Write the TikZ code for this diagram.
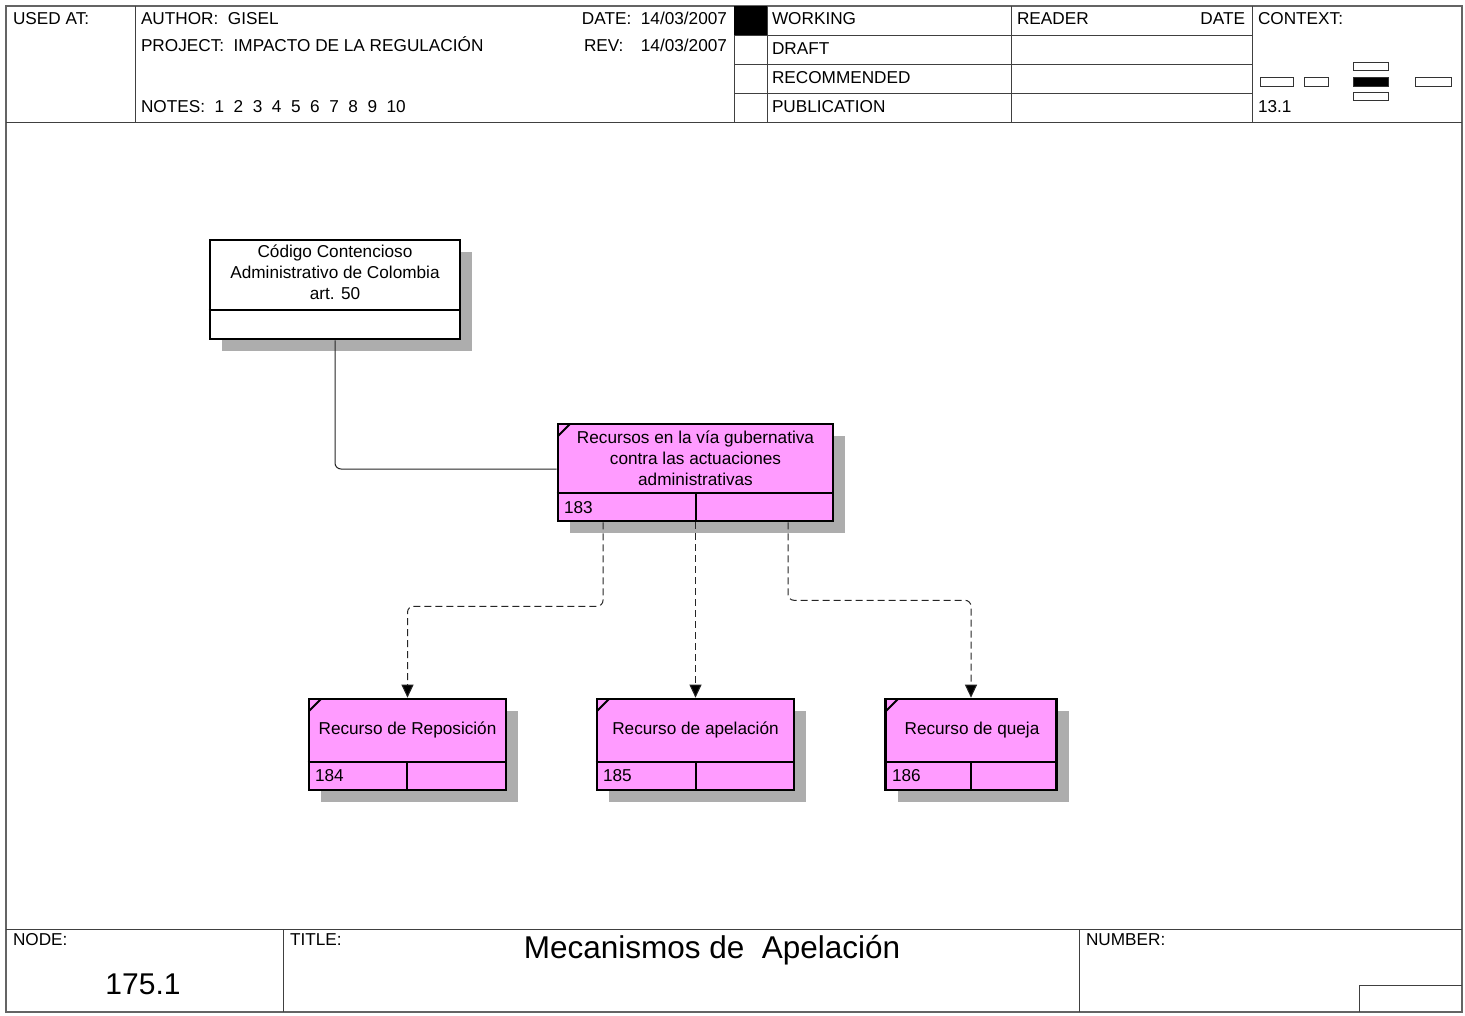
\documentclass[tikz,border=0pt]{standalone}
\usepackage{fontspec}
\setmainfont{Liberation Sans}
\usetikzlibrary{arrows.meta,shadows}
\definecolor{boxpink}{RGB}{255,155,255}
\definecolor{framegray}{RGB}{100,100,100}
\begin{document}
\begin{tikzpicture}[x=1pt,y=-1pt,
  txt/.style={font=\fontsize{17.2}{21}\selectfont, inner sep=0pt, outer sep=0pt},
  lbl/.style={txt, anchor=base west},
  lblr/.style={txt, anchor=base east},
  frameline/.style={draw=framegray, line width=1.3pt},
  rule/.style={draw=black!75, line width=0.9pt},
  ctxbox/.style={draw=black!80, line width=0.8pt},
  box/.style={draw=black, line width=2.6pt, rectangle, inner sep=0pt, fill=boxpink,
    drop shadow={shadow xshift=12pt, shadow yshift=-12pt, fill=black!32, opacity=1}},
  whitebox/.style={box, fill=white},
  divider/.style={draw=black, line width=2.6pt},
  tickmark/.style={draw=black, line width=2pt},
  conn/.style={draw=black!85, line width=1pt, rounded corners=6pt},
  dconn/.style={conn, dash pattern=on 7pt off 4pt, -{Triangle[length=13pt,width=12pt,fill=black]}},
]
\useasboundingbox (0,0) rectangle (1465,1016);
\fill[white] (0,0) rectangle (1465,1016);

% ---------- frame and header ----------
\draw[frameline] (6,6) rectangle (1462,1012);
\draw[rule] (6,122) -- (1462,122);
\draw[rule] (6,929) -- (1462,929);
\draw[rule] (135,6) -- (135,122);
\draw[rule] (734,6) -- (734,122);
\draw[rule] (767,6) -- (767,122);
\draw[rule] (1011,6) -- (1011,122);
\draw[rule] (1252,6) -- (1252,122);
\draw[rule] (734,35) -- (1252,35);
\draw[rule] (734,64) -- (1252,64);
\draw[rule] (734,93) -- (1252,93);
\fill[black] (734,6) rectangle (767,35);

\node[lbl] (usedat) at (13,25) {USED AT:};
\node[lbl] (author) at (141,25) {AUTHOR:\ \ GISEL};
\node[lbl] (project) at (141,52) {PROJECT:\ \ IMPACTO DE LA REGULACIÓN};
\node[lbl] (notes) at (141,113) {NOTES:\ \ 1\ \ 2\ \ 3\ \ 4\ \ 5\ \ 6\ \ 7\ \ 8\ \ 9\ \ 10};
\node[lblr] (date) at (727,25) {DATE:\ \ 14/03/2007};
\node[lbl] (rev) at (584,52) {REV:};
\node[lblr] (revdate) at (727,52) {14/03/2007};
\node[lbl] (working) at (772,25) {WORKING};
\node[lbl] (draft) at (772,55) {DRAFT};
\node[lbl] (recom) at (772,84) {RECOMMENDED};
\node[lbl] (publ) at (772,113) {PUBLICATION};
\node[lbl] (reader) at (1017,25) {READER};
\node[lblr] (rdate) at (1245,25) {DATE};
\node[lbl] (context) at (1258,25) {CONTEXT:};
\node[lbl] (ctxnum) at (1258,113) {13.1};

\draw[ctxbox] (1260,77) rectangle (1293,86);
\draw[ctxbox] (1304,77) rectangle (1328,86);
\filldraw[ctxbox, fill=black] (1353,77) rectangle (1388,86);
\draw[ctxbox] (1353,62) rectangle (1388,70);
\draw[ctxbox] (1353,92) rectangle (1388,100);
\draw[ctxbox] (1415,77) rectangle (1451,86);

% ---------- footer ----------
\draw[rule] (283,929) -- (283,1012);
\draw[rule] (1079,929) -- (1079,1012);
\draw[rule] (1359,985) -- (1462,985);
\draw[rule] (1359,985) -- (1359,1012);
\node[lbl] (nodelbl) at (13,945) {NODE:};
\node[lbl] (titlelbl) at (290,945) {TITLE:};
\node[lbl] (numberlbl) at (1086,945) {NUMBER:};
\node[txt, anchor=base, font=\fontsize{30}{36}\selectfont] (nodenum) at (143,994) {175.1};
\node[txt, anchor=base, font=\fontsize{31.5}{37}\selectfont] (title) at (712,958) {Mecanismos de\ \ Apelación};

% ---------- boxes ----------
\node[whitebox, minimum width=250pt, minimum height=99pt] (b1) at (335,289.5) {};
\node[box, minimum width=275pt, minimum height=97pt] (b183) at (695.5,472.5) {};
\node[box, minimum width=197pt, minimum height=91pt] (b184) at (407.5,744.5) {};
\node[box, minimum width=197pt, minimum height=91pt] (b185) at (695.5,744.5) {};
\node[box, minimum width=171pt, minimum height=91pt] (b186) at (971,744.5) {};

\draw[divider] (b1.west |- 0,310) -- (b1.east |- 0,310);
\draw[divider] (b183.west |- 0,493) -- (b183.east |- 0,493);
\draw[divider] (696,493) -- (696,521);
\draw[divider] (b184.west |- 0,762) -- (b184.east |- 0,762);
\draw[divider] (407,762) -- (407,790);
\draw[divider] (b185.west |- 0,762) -- (b185.east |- 0,762);
\draw[divider] (696,762) -- (696,790);
\draw[divider] (b186.west |- 0,762) -- (b186.east |- 0,762);
\draw[divider] (971,762) -- (971,790);

\draw[tickmark] (558,436) -- (570,424);
\draw[tickmark] (309,711) -- (321,699);
\draw[tickmark] (597,711) -- (609,699);
\draw[tickmark] (886,711) -- (898,699);

\node[txt, align=center] (t1) at (335,272) {Código Contencioso\\Administrativo de Colombia\\art. 50};
\node[txt, align=center] (t183) at (695.5,458) {Recursos en la vía gubernativa\\contra las actuaciones\\administrativas};
\node[txt] (t184) at (407.5,730) {Recurso de Reposición};
\node[txt] (t185) at (695.5,730) {Recurso de apelación};
\node[txt] (t186) at (972,730) {Recurso de queja};
\node[lbl] (n183) at (564,513) {183};
\node[lbl] (n184) at (315,781) {184};
\node[lbl] (n185) at (603,781) {185};
\node[lbl] (n186) at (892,781) {186};

% ---------- connectors ----------
\draw[conn] (b1.south) |- ([yshift=3.5pt]b183.west);
\draw[dconn] ([xshift=-92.5pt]b183.south) -- ++(0,84) -| (b184.north);
\draw[dconn] (b183.south) -- (b185.north);
\draw[dconn] ([xshift=92.5pt]b183.south) -- ++(0,78) -| (b186.north);
\end{tikzpicture}
\end{document}
